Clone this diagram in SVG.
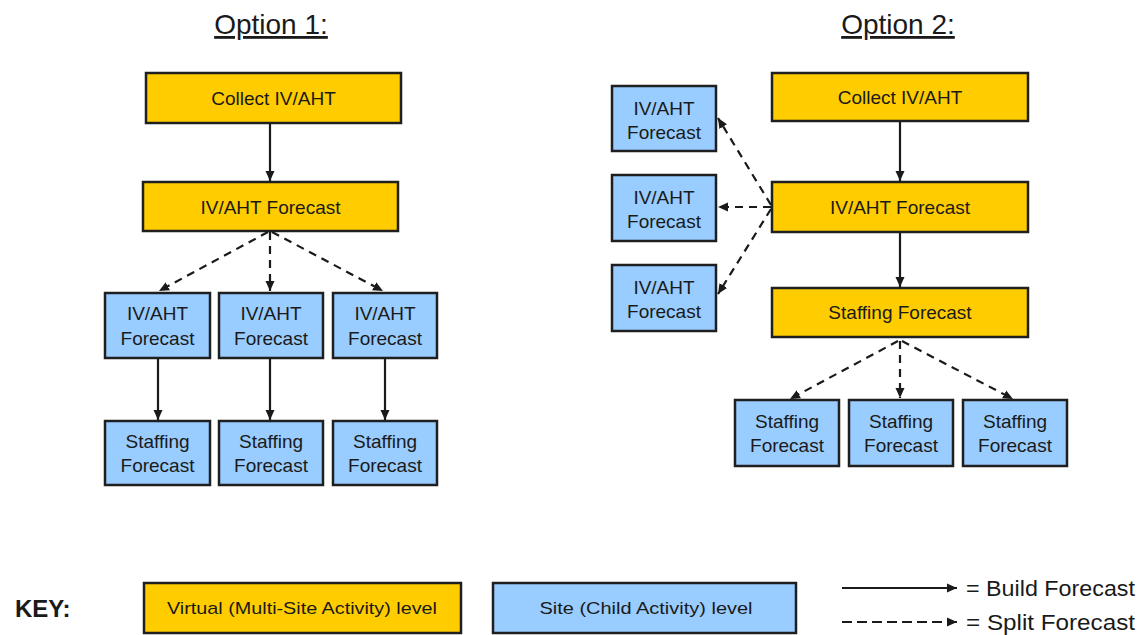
<svg xmlns="http://www.w3.org/2000/svg" width="1139" height="635" viewBox="0 0 1139 635">
<defs>
<marker id="ah" markerUnits="userSpaceOnUse" markerWidth="11" markerHeight="10" refX="10" refY="5" orient="auto">
<path d="M0,0.5 L10,5 L0,9.5 z" fill="#1a1a1a"/>
</marker>
</defs>
<style>
.y{fill:#FFCC00;stroke:#1f1f1f;stroke-width:2.5}
.b{fill:#99CCFF;stroke:#1f1f1f;stroke-width:2.5}
text{font-family:"Liberation Sans",Arial,sans-serif;fill:#1a1a1a}
.t{font-size:19px;text-anchor:middle}
.h{font-size:28px;text-anchor:middle;text-decoration:underline}
.s{stroke:#1a1a1a;stroke-width:2.2;fill:none;marker-end:url(#ah)}
.d{stroke:#1a1a1a;stroke-width:2.2;fill:none;stroke-dasharray:8 6;marker-end:url(#ah)}
</style>
<rect width="1139" height="635" fill="#ffffff"/>
<text class="h" x="271" y="34">Option 1:</text>
<text class="h" x="898" y="34">Option 2:</text>

<g id="o1-collect"><rect class="y" x="146" y="73" width="255" height="50"/><text class="t" x="273.5" y="105">Collect IV/AHT</text></g>
<g id="o1-ivaht"><rect class="y" x="143" y="182" width="255" height="49"/><text class="t" x="270.5" y="214">IV/AHT Forecast</text></g>
<g id="o1-site-iv1"><rect class="b" x="105" y="293" width="105" height="65"/><text class="t" x="157.5" y="320">IV/AHT</text><text class="t" x="157.5" y="345">Forecast</text></g>
<g id="o1-site-iv2"><rect class="b" x="219" y="293" width="104" height="65"/><text class="t" x="271" y="320">IV/AHT</text><text class="t" x="271" y="345">Forecast</text></g>
<g id="o1-site-iv3"><rect class="b" x="333" y="293" width="104" height="65"/><text class="t" x="385" y="320">IV/AHT</text><text class="t" x="385" y="345">Forecast</text></g>
<g id="o1-site-st1"><rect class="b" x="105" y="421" width="105" height="64"/><text class="t" x="157.5" y="448">Staffing</text><text class="t" x="157.5" y="472">Forecast</text></g>
<g id="o1-site-st2"><rect class="b" x="219" y="421" width="104" height="64"/><text class="t" x="271" y="448">Staffing</text><text class="t" x="271" y="472">Forecast</text></g>
<g id="o1-site-st3"><rect class="b" x="333" y="421" width="104" height="64"/><text class="t" x="385" y="448">Staffing</text><text class="t" x="385" y="472">Forecast</text></g>

<g id="o2-collect"><rect class="y" x="772" y="73" width="256" height="48"/><text class="t" x="900" y="104">Collect IV/AHT</text></g>
<g id="o2-ivaht"><rect class="y" x="772" y="182" width="256" height="50"/><text class="t" x="900" y="214">IV/AHT Forecast</text></g>
<g id="o2-staff"><rect class="y" x="772" y="288" width="256" height="49"/><text class="t" x="900" y="319">Staffing Forecast</text></g>
<g id="o2-site-iv1"><rect class="b" x="612" y="86" width="104" height="65"/><text class="t" x="664" y="115">IV/AHT</text><text class="t" x="664" y="139">Forecast</text></g>
<g id="o2-site-iv2"><rect class="b" x="612" y="175" width="104" height="66"/><text class="t" x="664" y="204">IV/AHT</text><text class="t" x="664" y="228">Forecast</text></g>
<g id="o2-site-iv3"><rect class="b" x="612" y="265" width="104" height="66"/><text class="t" x="664" y="294">IV/AHT</text><text class="t" x="664" y="318">Forecast</text></g>
<g id="o2-site-st1"><rect class="b" x="735" y="400" width="104" height="66"/><text class="t" x="787" y="428">Staffing</text><text class="t" x="787" y="452">Forecast</text></g>
<g id="o2-site-st2"><rect class="b" x="849" y="400" width="104" height="66"/><text class="t" x="901" y="428">Staffing</text><text class="t" x="901" y="452">Forecast</text></g>
<g id="o2-site-st3"><rect class="b" x="963" y="400" width="104" height="66"/><text class="t" x="1015" y="428">Staffing</text><text class="t" x="1015" y="452">Forecast</text></g>

<g id="connectors">
<line class="s" x1="270" y1="124" x2="270" y2="181"/>
<line class="d" x1="268" y1="232" x2="159" y2="291"/>
<line class="d" x1="270" y1="232" x2="270" y2="291"/>
<line class="d" x1="272" y1="232" x2="383" y2="291"/>
<line class="s" x1="158" y1="359" x2="158" y2="420"/>
<line class="s" x1="270" y1="359" x2="270" y2="420"/>
<line class="s" x1="385" y1="359" x2="385" y2="420"/>
<line class="s" x1="900" y1="122" x2="900" y2="181"/>
<line class="s" x1="900" y1="233" x2="900" y2="287"/>
<line class="d" x1="771" y1="205" x2="718" y2="118"/>
<line class="d" x1="771" y1="207" x2="718" y2="207"/>
<line class="d" x1="771" y1="209" x2="718" y2="294"/>
<line class="d" x1="898" y1="341" x2="790" y2="399"/>
<line class="d" x1="900" y1="341" x2="900" y2="398"/>
<line class="d" x1="902" y1="341" x2="1013" y2="399"/>
</g>

<g id="key">
<text x="15" y="617" font-size="24" font-weight="bold">KEY:</text>
<g id="key-virtual"><rect class="y" x="144" y="583" width="317" height="50"/><text x="302" y="614" font-size="17" text-anchor="middle" textLength="270" lengthAdjust="spacingAndGlyphs">Virtual (Multi-Site Activity) level</text></g>
<g id="key-site"><rect class="b" x="493" y="583" width="303" height="50"/><text x="646" y="614" font-size="17" text-anchor="middle" textLength="213" lengthAdjust="spacingAndGlyphs">Site (Child Activity) level</text></g>
<line class="s" x1="842" y1="588" x2="957" y2="588"/>
<line class="d" x1="842" y1="622" x2="957" y2="622" stroke-width="2.8" style="stroke-dasharray:10 5"/>
<text x="966" y="596" font-size="22" textLength="169" lengthAdjust="spacingAndGlyphs">= Build Forecast</text>
<text x="966" y="630" font-size="22" textLength="169" lengthAdjust="spacingAndGlyphs">= Split Forecast</text>
</g>
</svg>
